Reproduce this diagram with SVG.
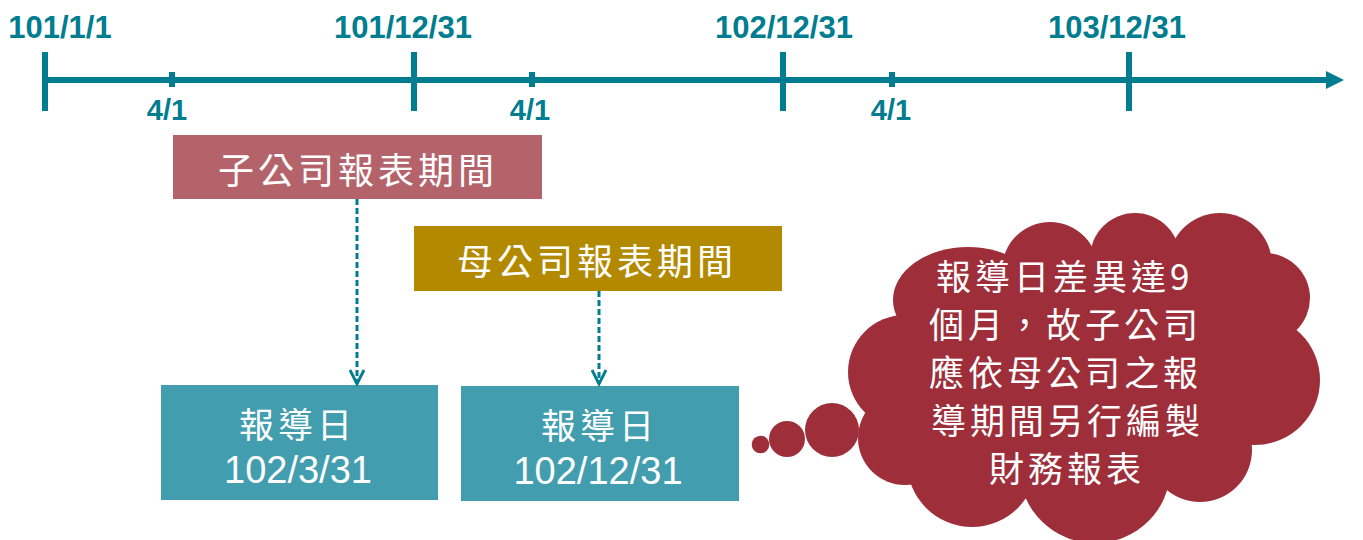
<svg xmlns="http://www.w3.org/2000/svg" width="1363" height="540" viewBox="0 0 1363 540">
<defs>
<style>
.tl{stroke:#007D8F;stroke-width:6;fill:none}
.date{font-family:"Liberation Sans",Arial,sans-serif;font-weight:bold;fill:#007D8F;text-anchor:middle}
.cjk{font-family:"Noto Sans CJK TC","Noto Sans CJK SC",sans-serif;fill:#FFFFFF}
.num{font-family:"Liberation Sans",Arial,sans-serif;fill:#FFFFFF;text-anchor:middle;font-size:38px}
.dash{stroke:#007D8F;stroke-width:3;stroke-dasharray:6 3;fill:none}
.cloud{fill:#9E2F3A}
</style>
<marker id="chev" markerUnits="userSpaceOnUse" markerWidth="18" markerHeight="18" refX="15" refY="8" orient="auto" viewBox="0 0 18 16">
<path d="M1,1 L15,8 L1,15" fill="none" stroke="#007D8F" stroke-width="2.8"/>
</marker>
</defs>
<rect width="1363" height="540" fill="#FFFFFF"/>

<g id="timeline">
<line class="tl" x1="45" y1="80" x2="1328" y2="80"/>
<polygon points="1326,71 1344,80 1326,89" fill="#007D8F"/>
<line class="tl" x1="45" y1="52" x2="45" y2="111"/>
<line class="tl" x1="414" y1="52" x2="414" y2="111"/>
<line class="tl" x1="783" y1="52" x2="783" y2="111"/>
<line class="tl" x1="1129" y1="52" x2="1129" y2="111"/>
<line class="tl" x1="172" y1="72" x2="172" y2="87"/>
<line class="tl" x1="532" y1="72" x2="532" y2="87"/>
<line class="tl" x1="892" y1="72" x2="892" y2="87"/>
<text class="date" x="60" y="38" font-size="31">101/1/1</text>
<text class="date" x="403" y="38" font-size="31">101/12/31</text>
<text class="date" x="784" y="38" font-size="31">102/12/31</text>
<text class="date" x="1117" y="38" font-size="31">103/12/31</text>
<text class="date" x="167" y="120" font-size="29">4/1</text>
<text class="date" x="530" y="120" font-size="29">4/1</text>
<text class="date" x="891" y="120" font-size="29">4/1</text>
</g>

<g id="sub-period">
<rect x="173" y="135" width="369" height="64" fill="#B5636B"/>
<text class="cjk" x="218" y="184" font-size="36" letter-spacing="4">子公司報表期間</text>
</g>

<g id="parent-period">
<rect x="414" y="226" width="368" height="65" fill="#B38900"/>
<text class="cjk" x="457" y="275" font-size="36" letter-spacing="4">母公司報表期間</text>
</g>

<g id="sub-date">
<rect x="161" y="385" width="277" height="115" fill="#429EAF"/>
<text class="cjk" x="239" y="438" font-size="35" letter-spacing="4">報導日</text>
<text class="num" x="298" y="483">102/3/31</text>
</g>

<g id="parent-date">
<rect x="461" y="386" width="278" height="115" fill="#429EAF"/>
<text class="cjk" x="541" y="439" font-size="35" letter-spacing="4">報導日</text>
<text class="num" x="598" y="484">102/12/31</text>
</g>

<g id="connectors">
<line class="dash" x1="357" y1="199" x2="357" y2="384" marker-end="url(#chev)"/>
<line class="dash" x1="599" y1="291" x2="599" y2="384" marker-end="url(#chev)"/>
</g>

<g id="cloud-note">
<circle class="cloud" cx="760.5" cy="444.5" r="8.8"/>
<circle class="cloud" cx="787" cy="439" r="18"/>
<circle class="cloud" cx="832" cy="430" r="27"/>
<ellipse class="cloud" cx="1085" cy="375" rx="195" ry="125"/>
<circle class="cloud" cx="905" cy="372" r="57"/>
<circle class="cloud" cx="905" cy="438" r="47"/>
<circle class="cloud" cx="972" cy="462" r="65"/>
<ellipse class="cloud" cx="1095" cy="470" rx="75" ry="73"/>
<circle class="cloud" cx="1200" cy="450" r="52"/>
<circle class="cloud" cx="1255" cy="380" r="65"/>
<circle class="cloud" cx="1265" cy="298" r="45"/>
<circle class="cloud" cx="1220" cy="265" r="52"/>
<circle class="cloud" cx="1135" cy="258" r="45"/>
<circle class="cloud" cx="1050" cy="270" r="48"/>
<ellipse class="cloud" cx="968" cy="300" rx="75" ry="53"/>
<text class="cjk" font-size="35" letter-spacing="4">
<tspan x="936" y="290">報導日差異達9</tspan>
<tspan x="929" y="338">個月，故子公司</tspan>
<tspan x="929" y="386">應依母公司之報</tspan>
<tspan x="931" y="434">導期間另行編製</tspan>
<tspan x="989" y="482">財務報表</tspan>
</text>
</g>
</svg>
